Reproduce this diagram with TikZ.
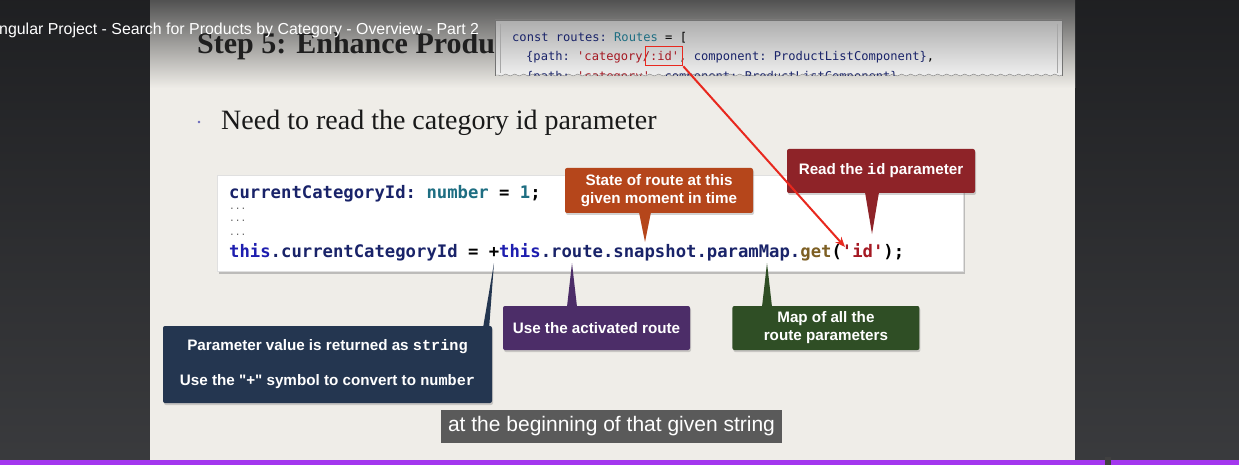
\documentclass[tikz,border=0pt]{standalone}
\usepackage{fontspec}
\setmainfont{Liberation Serif}
\newfontfamily\uifont{Liberation Sans}
\newfontfamily\codefont[Ligatures=TeXOff]{DejaVu Sans Mono}
\newfontfamily\notemono[Ligatures=TeXOff]{Liberation Mono}
\usetikzlibrary{arrows.meta, positioning, calc, shadows, decorations.pathmorphing}

\definecolor{slidebg}{RGB}{239,237,232}
\definecolor{playerdark}{RGB}{36,37,40}
\definecolor{noteorange}{RGB}{181,70,27}
\definecolor{notered}{RGB}{142,35,40}
\definecolor{notenavy}{RGB}{36,54,80}
\definecolor{notepurple}{RGB}{76,45,104}
\definecolor{notegreen}{RGB}{47,78,37}
\definecolor{kwblue}{RGB}{30,30,175}
\definecolor{idnavy}{RGB}{25,35,105}
\definecolor{typeteal}{RGB}{30,110,130}
\definecolor{fnolive}{RGB}{125,95,35}
\definecolor{strred}{RGB}{165,25,35}
\definecolor{arrowred}{RGB}{232,40,30}
\definecolor{subgray}{RGB}{90,90,90}
\definecolor{seekpurple}{RGB}{163,55,238}

\tikzset{
  notebox/.style={rectangle,rounded corners=2pt,text=white,align=center,inner sep=0pt,
    font=\uifont\bfseries\fontsize{15.2}{18}\selectfont,
    drop shadow={opacity=0.35,shadow xshift=1pt,shadow yshift=-2pt}},
  codebox/.style={rectangle,fill=white,draw=black!12,
    drop shadow={opacity=0.45,shadow xshift=2pt,shadow yshift=-3pt}},
  codeline/.style={anchor=base west,inner sep=0pt,font=\codefont\bfseries\fontsize{17.25}{20}\selectfont\frenchspacing},
  dotline/.style={anchor=base west,inner sep=0pt,text=black!60,font=\codefont\fontsize{9.5}{10}\selectfont},
  routeline/.style={anchor=base west,inner sep=0pt,font=\codefont\fontsize{12.1}{14}\selectfont\frenchspacing},
  redarr/.style={-{Stealth[length=10pt,width=8pt]},line width=2pt,color=arrowred}
}

\begin{document}
\begin{tikzpicture}[x=1pt,y=-1pt]
  \useasboundingbox (0,0) rectangle (1239,465);

  %% Player and slide background
  \shade[top color=playerdark!85!black,bottom color=playerdark!90!white] (0,0) rectangle (1239,465);
  \fill[slidebg] (150,0) rectangle (1075,460);
  \shade[top color=black!68,middle color=black!30,bottom color=slidebg] (150,0) rectangle (1075,88);
  \fill[seekpurple] (0,460) rectangle (1239,465);
  \fill[black!75] (1105,457) rectangle (1111,465);

  %% Slide title
  \node[anchor=base west,inner sep=0pt,text=black!88,font=\bfseries\fontsize{30}{32}\selectfont]
      (stepTitle) at (197,54) {Step 5: Enhance Produc};

  %% Routes snippet (torn)
  \shade[top color=black!32,bottom color=black!6]
      (495,20) -- (1062,20) -- (1062,75)
      decorate[decoration={snake,segment length=9pt,amplitude=1pt}] {-- (495,75)} -- cycle;
  \draw[black!55] (495,76) -- (495,20) -- (1062,20) -- (1062,76);
  \draw[black!35] (500,24) -- (500,73) (1057,24) -- (1057,73);
  \node[routeline] (routeLineA) at (512,42)
      {\textcolor{idnavy}{const routes:} \textcolor{typeteal}{Routes} = [};
  \node[routeline] (routeLineB) at (526,61)
      {\textcolor{idnavy}{\{path:} \textcolor{strred}{'category/:id'}, \textcolor{idnavy}{component: ProductListComponent\}},};
  \begin{scope}
    \clip (495,20) rectangle (1062,76);
    \node[routeline] (routeLineC) at (526,81)
        {\textcolor{idnavy}{\{path:} \textcolor{strred}{'category'}, \textcolor{idnavy}{component: ProductListComponent\}}};
  \end{scope}
  \draw[black!50,decorate,decoration={snake,segment length=9pt,amplitude=1pt}] (1062,75) -- (495,75);
  \node[draw=arrowred,line width=1.6pt,minimum width=37pt,minimum height=19pt,inner sep=0pt]
      (idMark) at (664,56) {};

  %% Video title overlay
  \node[anchor=base west,inner sep=0pt,text=white,font=\uifont\fontsize{15.9}{17}\selectfont]
      (vidTitle) at (-1,35) {ngular Project - Search for Products by Category - Overview - Part 2};

  %% Bullet
  \fill[black!45!blue!60] (199,122) circle (1.4);
  \node[anchor=base west,inner sep=0pt,text=black!90,font=\fontsize{28}{32}\selectfont]
      (bulletText) at (221,130) {Need to read the category id parameter};

  %% Code box
  \node[codebox,minimum width=746pt,minimum height=96pt] (codeBox) at (590,223) {};
  \node[codeline] (codeLineA) at (229,199)
      {\textcolor{idnavy}{currentCategoryId:} \textcolor{typeteal}{number} = \textcolor{typeteal}{1};};
  \node[dotline] (dotsA) at (229,209) {...};
  \node[dotline] (dotsB) at (229,222) {...};
  \node[dotline] (dotsC) at (229,235) {...};
  \node[codeline] (codeLineB) at (229,257)
      {\textcolor{kwblue}{this}\textcolor{idnavy}{.currentCategoryId} = +\textcolor{kwblue}{this}\textcolor{idnavy}{.route.snapshot.paramMap.}\textcolor{fnolive}{get}(\textcolor{strred}{'id'});};

  %% Callouts
  \node[notebox,fill=noteorange,minimum width=188pt,minimum height=45pt] (stateNote) at (659,190.5)
      {State of route at this\\given moment in time};
  \node[notebox,fill=notered,minimum width=188pt,minimum height=44pt] (readNote) at (881,171)
      {Read the {\notemono\bfseries id} parameter};
  \node[notebox,fill=notenavy,minimum width=329pt,minimum height=77pt] (paramNote) at (327.5,364.5)
      {Parameter value is returned as {\notemono\bfseries string}\\[17pt]
       Use the "+" symbol to convert to {\notemono\bfseries number}};
  \node[notebox,fill=notepurple,minimum width=187pt,minimum height=44pt] (routeNote) at (596.5,328)
      {Use the activated route};
  \node[notebox,fill=notegreen,minimum width=187pt,minimum height=44pt,right=42pt of routeNote] (mapNote)
      {Map of all the\\route parameters};

  %% Pointers
  \coordinate (stateTip) at (645,242);
  \coordinate (readTip) at (872,234);
  \coordinate (plusTip) at (494,263);
  \coordinate (routeTip) at (572,263);
  \coordinate (mapTip) at (767,263);
  \fill[noteorange] ($(stateTip |- stateNote.south)+(-6,-1)$) -- (stateTip) -- ($(stateTip |- stateNote.south)+(6,-1)$) -- cycle;
  \fill[notered] ($(readTip |- readNote.south)+(-7,-1)$) -- (readTip) -- ($(readTip |- readNote.south)+(7,-1)$) -- cycle;
  \fill[notenavy] ($(paramNote.north east)+(-9,1)$) -- (plusTip) -- ($(paramNote.north east)+(-3,1)$) -- cycle;
  \fill[notepurple] ($(routeTip |- routeNote.north)+(-5,1)$) -- (routeTip) -- ($(routeTip |- routeNote.north)+(5,1)$) -- cycle;
  \fill[notegreen] ($(mapTip |- mapNote.north)+(-5,1)$) -- (mapTip) -- ($(mapTip |- mapNote.north)+(5,1)$) -- cycle;

  %% Red arrow
  \coordinate (idTip) at (845,247);
  \draw[redarr] (idMark.south east) -- (idTip);

  %% Subtitle
  \node[fill=subgray,text=white,inner sep=0pt,minimum width=341pt,minimum height=33pt,
        font=\uifont\fontsize{21}{24}\selectfont] (subText) at (611.5,426.5)
      {at the beginning of that given string};
\end{tikzpicture}
\end{document}
